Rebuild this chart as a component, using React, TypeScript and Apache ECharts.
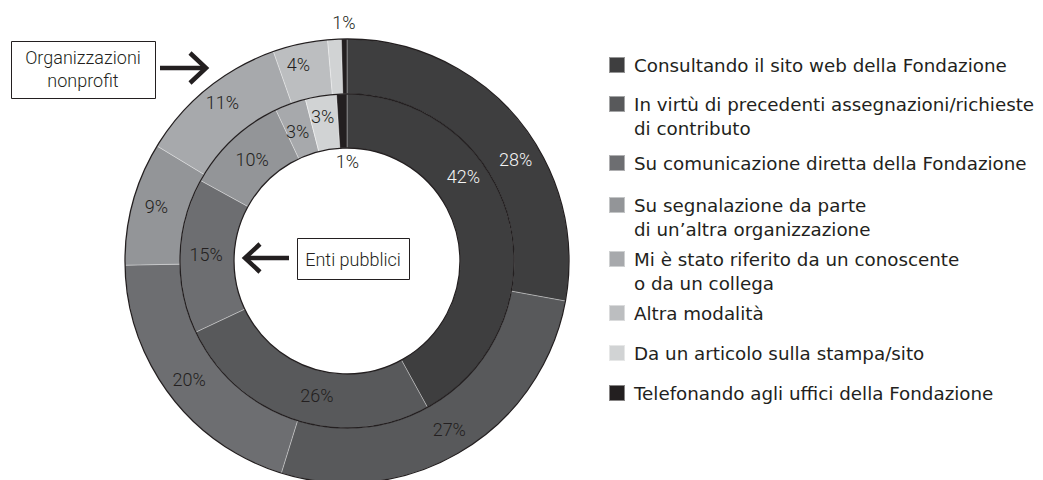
import React, { useEffect, useRef } from "react";
import * as echarts from "echarts";

const categories = [
  "Consultando il sito web della Fondazione",
  "In virtù di precedenti assegnazioni/richieste\ndi contributo",
  "Su comunicazione diretta della Fondazione",
  "Su segnalazione da parte\ndi un’altra organizzazione",
  "Mi è stato riferito da un conoscente\no da un collega",
  "Altra modalità",
  "Da un articolo sulla stampa/sito",
  "Telefonando agli uffici della Fondazione",
];
// Outer ring: Organizzazioni nonprofit
const nonprofitValues = [28, 27, 20, 9, 11, 4, 1, 0.4];
// Inner ring: Enti pubblici
const publicValues = [42, 26, 15, 10, 3, 0, 3, 1];

const colors = ["#3e3e3f", "#58595b", "#6d6e71", "#939598", "#a7a9ac", "#bcbec0", "#d1d3d4", "#231f20"];
const labelColors = ["#f4f4f4", "#231f20", "#231f20", "#231f20", "#231f20", "#231f20", "#231f20", "#231f20"];

const CX = 347;
const CY = 261;
const R_HOLE = 113;
const R_MID = 167;
const R_OUT = 222;

const legendIconY = [65, 104, 163, 205, 259, 313, 353, 393];
const outerShift = [[17, 25], [0, 0], [0, 0], [0, -3], [0, -5], [-7, -3], [8, -41], [0, 0]];
const innerShift = [[-22, -49], [14, -2], [2, -2], [3, 3], [-1, 5], [0, 0], [-2, -3], [5, 43]];

const LABEL_FONT = "Roboto, 'DejaVu Sans', sans-serif";
const LEGEND_FONT = "'DejaVu Sans', sans-serif";
const INK = "#231f20";

function buildData(values: number[]) {
  return values.map((v, i) => ({
    name: categories[i],
    value: v,
    itemStyle: { color: colors[i] },
    label: { color: labelColors[i] },
  }));
}

export default function App() {
  const ref = useRef<HTMLDivElement>(null);
  useEffect(() => {
    if (!ref.current) return;
    const chart = echarts.init(ref.current, null, { renderer: "svg" });
    const labelCommon = {
      show: true,
      position: "inside",
      fontFamily: LABEL_FONT,
      fontWeight: 300,
      fontSize: 18,
      formatter: (p: any) => (p.value < 0.5 ? "" : Math.round(p.value) + "%"),
    };
    const option: any = {
      animation: false,
      backgroundColor: "#ffffff",
      legend: categories.map((name, i) => {
        const multi = name.includes("\n");
        return {
          data: [name],
          left: 608,
          top: legendIconY[i] - (multi ? 36 : 12),
          orient: "vertical",
          padding: 0,
          icon: "rect",
          itemWidth: 16,
          itemHeight: 16,
          selectedMode: false,
          formatter: (n: string) => (n.includes("\n") ? "\n" + n : n),
          textStyle: {
            fontFamily: LEGEND_FONT,
            fontSize: 18.3,
            lineHeight: 24,
            color: INK,
            padding: [0, 0, 0, 4],
          },
        };
      }),
      series: [
        {
          type: "pie",
          name: "Organizzazioni nonprofit",
          center: [CX, CY],
          radius: [R_MID, R_OUT],
          startAngle: 90,
          clockwise: true,
          avoidLabelOverlap: false,
          emphasis: { disabled: true },
          itemStyle: { borderColor: "rgba(255,255,255,0.45)", borderWidth: 0.7 },
          label: labelCommon,
          labelLine: { show: false },
          labelLayout: (p: any) => ({ dx: outerShift[p.dataIndex][0], dy: outerShift[p.dataIndex][1] }),
          data: buildData(nonprofitValues),
        },
        {
          type: "pie",
          name: "Enti pubblici",
          center: [CX, CY],
          radius: [R_HOLE, R_MID],
          startAngle: 90,
          clockwise: true,
          avoidLabelOverlap: false,
          emphasis: { disabled: true },
          itemStyle: { borderColor: "rgba(255,255,255,0.45)", borderWidth: 0.7 },
          label: labelCommon,
          labelLine: { show: false },
          labelLayout: (p: any) => ({ dx: innerShift[p.dataIndex][0], dy: innerShift[p.dataIndex][1] }),
          data: buildData(publicValues),
        },
      ],
      graphic: [
        ...[R_OUT, R_MID, R_HOLE].map((r) => ({
          type: "circle",
          silent: true,
          z: 100,
          shape: { cx: CX, cy: CY, r },
          style: { fill: "none", stroke: INK, lineWidth: 1.3 },
        })),
        {
          type: "rect",
          z: 100,
          shape: { x: 11.5, y: 41.5, width: 144, height: 57 },
          style: { fill: "#fff", stroke: INK, lineWidth: 1 },
        },
        {
          type: "text",
          z: 101,
          x: 83,
          y: 69,
          style: {
            text: "Organizzazioni\nnonprofit",
            align: "center",
            verticalAlign: "middle",
            fontFamily: LABEL_FONT,
            fontWeight: 300,
            fontSize: 18,
            lineHeight: 23,
            fill: INK,
          },
        },
        {
          type: "line",
          z: 100,
          shape: { x1: 160, y1: 68, x2: 203, y2: 68 },
          style: { stroke: INK, lineWidth: 4.5 },
        },
        {
          type: "polyline",
          z: 100,
          shape: { points: [[190, 53], [206, 68], [190, 83]] },
          style: { stroke: INK, lineWidth: 4.5, fill: "none" },
        },
        {
          type: "rect",
          z: 100,
          shape: { x: 297.5, y: 238.5, width: 112, height: 41 },
          style: { fill: "#fff", stroke: INK, lineWidth: 1 },
        },
        {
          type: "text",
          z: 101,
          x: 353,
          y: 259,
          style: {
            text: "Enti pubblici",
            align: "center",
            verticalAlign: "middle",
            fontFamily: LABEL_FONT,
            fontWeight: 300,
            fontSize: 18,
            fill: INK,
          },
        },
        {
          type: "line",
          z: 100,
          shape: { x1: 246, y1: 258, x2: 289, y2: 258 },
          style: { stroke: INK, lineWidth: 4.5 },
        },
        {
          type: "polyline",
          z: 100,
          shape: { points: [[260, 244], [245, 258], [260, 272]] },
          style: { stroke: INK, lineWidth: 4.5, fill: "none" },
        },
      ],
    };
    chart.setOption(option);
    return () => chart.dispose();
  }, []);
  return (
    <div
      ref={ref}
      style={{ position: "fixed", left: 0, top: 0, width: 1043, height: 480, background: "#fff" }}
    />
  );
}
